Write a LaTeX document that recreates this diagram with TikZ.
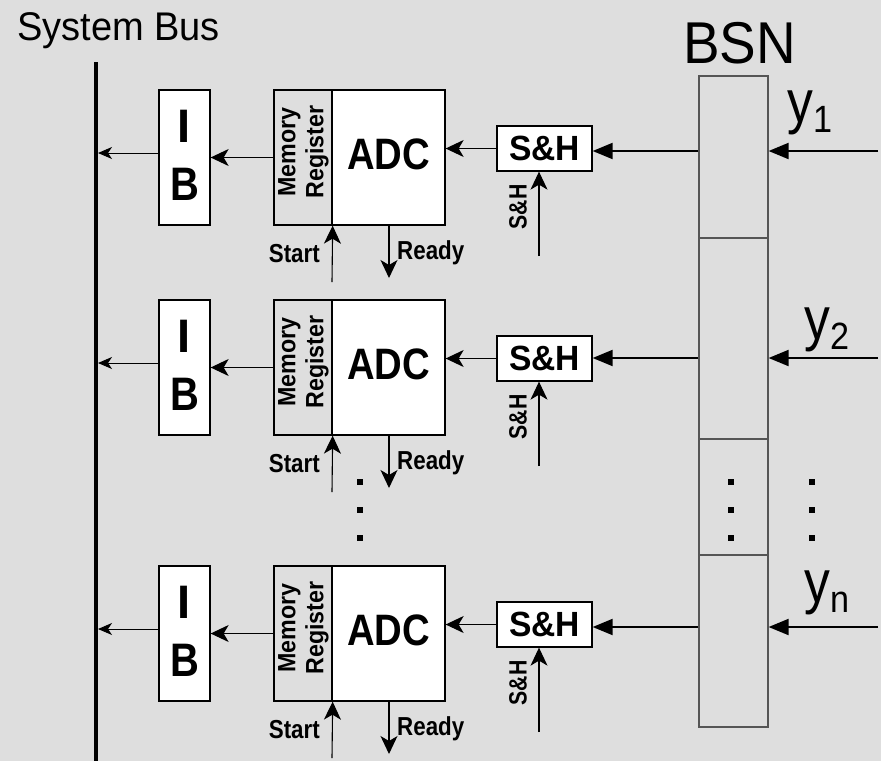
\documentclass[tikz,border=0pt]{standalone}
\usepackage{fontspec}
\setmainfont{Liberation Sans}
\usepackage{graphicx}
\usetikzlibrary{arrows.meta}
\definecolor{bg}{HTML}{DEDEDE}
\definecolor{bsngray}{HTML}{555555}
\newcommand\fs[1]{\fontsize{#1}{#1}\selectfont}
\newcommand\sqz[2]{\scalebox{#1}[1]{#2}}
\begin{document}
\begin{tikzpicture}[x=1pt,y=-1pt,
  box/.style={draw=black, line width=1.3pt, fill=white, inner sep=0pt, rectangle},
  regbox/.style={box, fill=bg},
  sig/.style={line width=1.1pt, -{Stealth[length=18pt,width=17pt,inset=5pt]}},
  busarr/.style={line width=1pt, -{Stealth[length=14pt,width=12pt,inset=4pt]}},
  inarr/.style={line width=2pt, -{Triangle[length=20pt,width=16pt]}},
  lbl/.style={inner sep=0pt, font=\bfseries},
  cell/.style={draw=bsngray, line width=1.2pt, inner sep=0pt, minimum width=69pt, rectangle},
  dotsq/.style={fill=black, minimum size=6pt, inner sep=0pt, rectangle}
]
\fill[bg] (0,0) rectangle (881,761);
\useasboundingbox (0,0) rectangle (881,761);

% title labels
\node[inner sep=0pt, anchor=base west] (sysbus) at (17,40) {\fs{40}\sqz{0.95}{System Bus}};
\node[inner sep=0pt, anchor=base] (bsnlbl) at (739.5,63) {\fs{59}\sqz{0.93}{BSN}};

% bus
\coordinate (bustop) at (96,62);
\coordinate (busbot) at (96,761);
\draw[line width=4pt] (bustop) -- (busbot);

% BSN cells
\node[cell, minimum height=162pt] (c1) at (733.5,157) {};
\node[cell, minimum height=201pt] (c2) at (733.5,338.5) {};
\node[cell, minimum height=116pt] (c3) at (733.5,497) {};
\node[cell, minimum height=172pt] (c4) at (733.5,641) {};

% dots
\foreach \yy in {482,510,538}{
  \node[dotsq] at (360,\yy) {};
  \node[dotsq] at (731,\yy) {};
  \node[dotsq] at (812,\yy) {};
}

\foreach \i/\T/\yin/\lab/\lx/\yb/\cc in {1/90/151/1/787/122/c1, 2/300/358/2/804/339/c2, 3/566/627/n/804/602/c4}{
  % boxes
  \node[box, minimum width=51pt, minimum height=135pt] (ib\i) at (184.5,\T+67.5) {};
  \node[lbl] (ibI\i) at (184.5,\T+36) {\fs{47}I};
  \node[lbl] (ibB\i) at (184.5,\T+94) {\fs{47}\sqz{0.85}{B}};
  \node[regbox, minimum width=58pt, minimum height=135pt] (mr\i) at (303,\T+67.5) {};
  \node[lbl, rotate=90, align=center, font=\bfseries\fontsize{25}{28}\selectfont] (mrt\i) at (303.5,\T+62) {\sqz{0.93}{Memory}\\\sqz{0.93}{Register}};
  \node[box, minimum width=113pt, minimum height=135pt] (adc\i) at (388.5,\T+67.5) {};
  \node[lbl] (adct\i) at (388.5,\T+64) {\fs{44}\sqz{0.87}{ADC}};
  \node[box, minimum width=95pt, minimum height=45pt] (sh\i) at (544.5,\T+58.5) {};
  \node[lbl] (sht\i) at (544.5,\T+58.5) {\fs{35}\sqz{0.96}{S\&H}};
  % connectors
  \draw[sig] (sh\i.west) -- (adc\i.east |- sh\i.west);
  \draw[sig] (mr\i.west) -- (ib\i.east |- mr\i.west);
  \coordinate (busin\i) at (98,\T+63);
  \draw[busarr] (ib\i.west |- busin\i) -- (busin\i);
  \coordinate (st\i) at (332,\T+192);
  \draw[sig] (st\i) -- (mr\i.south east);
  \node[lbl, anchor=base east] (stl\i) at (320,\T+172) {\fs{26}\sqz{0.86}{Start}};
  \coordinate (rd\i) at (389,\T+188);
  \draw[sig] (adc\i.south -| rd\i) -- (rd\i);
  \node[lbl, anchor=base west] (rdl\i) at (397,\T+169) {\fs{26}\sqz{0.86}{Ready}};
  \coordinate (shc\i) at (539,\T+166);
  \draw[sig] (shc\i) -- (sh\i.south -| shc\i);
  \node[lbl, rotate=90] (shl\i) at (518,\T+117) {\fs{25}\sqz{0.85}{S\&H}};
  % BSN to S&H and inputs
  \coordinate (bin\i) at (699,\yin);
  \draw[inarr] (\cc.west |- bin\i) -- (sh\i.east |- bin\i);
  \coordinate (src\i) at (878,\yin);
  \draw[inarr] (src\i) -- (\cc.east |- src\i);
  \node[inner sep=0pt, anchor=base west] (yl\i) at (\lx,\yb) {\fs{60}\sqz{0.86}{y}\raisebox{-10pt}{\fs{38}\sqz{0.9}{\lab}}};
}
\end{tikzpicture}
\end{document}
